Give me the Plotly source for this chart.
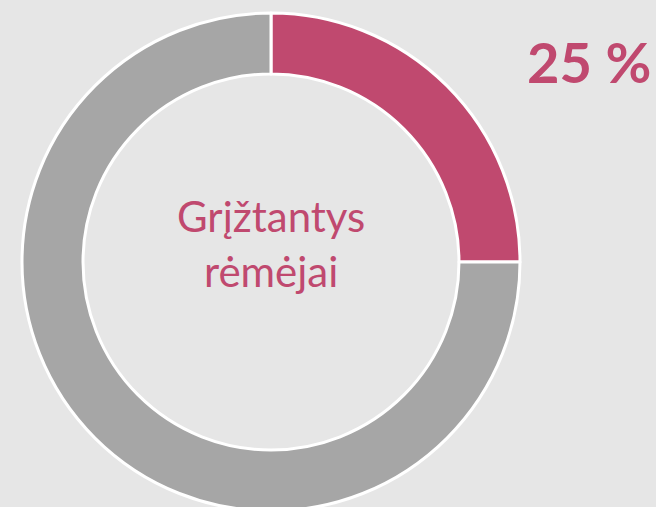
import plotly.graph_objects as go

# Data
labels = ["Grįžtantys rėmėjai", "Kiti"]
values = [25, 75]
colors = ["#c0496f", "#a6a6a6"]
center_label = "Grįžtantys<br>rėmėjai"
share_label = "25 %"

W, H = 656, 516

fig = go.Figure()

# Donut
fig.add_trace(go.Pie(
    labels=labels,
    values=values,
    hole=0.755,
    sort=False,
    direction="clockwise",
    rotation=0,
    marker=dict(colors=colors, line=dict(color="white", width=3)),
    textinfo="none",
    hoverinfo="label+percent",
    showlegend=False,
    domain=dict(x=[22 / W, 520 / W], y=[5 / H, 1 - 13 / H]),
))

# Centre text
fig.add_annotation(
    x=271 / W, y=1 - 244 / H, xref="paper", yref="paper",
    xanchor="center", yanchor="middle",
    text=center_label, showarrow=False,
    font=dict(family="Lato", size=42, color="#c0496f"),
)

# Percentage label
fig.add_annotation(
    x=589 / W, y=1 - 62 / H, xref="paper", yref="paper",
    xanchor="center", yanchor="middle",
    text="<b>" + share_label + "</b>", showarrow=False,
    font=dict(family="Lato", size=56, color="#c0496f", weight="bold"),
)

fig.update_layout(
    width=W, height=H,
    margin=dict(l=0, r=0, t=0, b=0),
    paper_bgcolor="#e6e6e6",
    plot_bgcolor="#e6e6e6",
)

fig.write_html(
    "out.html",
    config={"displayModeBar": False},
    post_script="document.body.style.margin='0';"
                "document.body.style.overflow='hidden';"
                "document.documentElement.style.overflow='hidden';",
)
